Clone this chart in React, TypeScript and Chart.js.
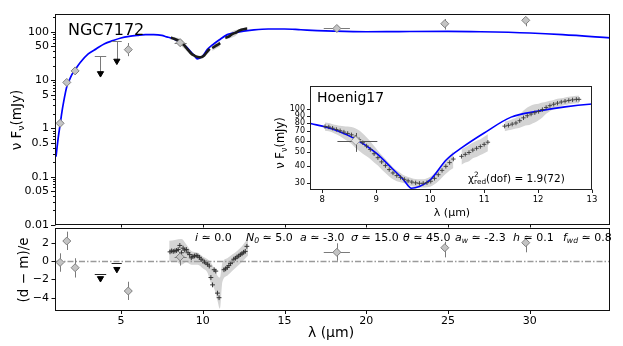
import React, { useEffect, useRef } from 'react';
import { Chart, registerables } from 'chart.js';
Chart.register(...registerables);

const FAM = '"DejaVu Sans", "Liberation Sans", sans-serif';
Chart.defaults.font.family = FAM;
const CW = 623, CH = 346;
const X_MIN = 1.03, X_MAX = 34.9;
const BAND = '#d4d4d4';

// ---- model SED (blue) ----
const modelX = [1.03, 1.1, 1.15, 1.2, 1.28, 1.4, 1.5, 1.6, 1.7, 1.8, 2.0, 2.2, 2.5, 3.0, 3.5, 4.0, 4.5, 5.0, 5.5, 6.0, 6.5, 7.0, 7.5, 7.8, 8.0, 8.3, 8.6, 9.0, 9.3, 9.5, 9.65, 9.8, 10.0, 10.3, 10.6, 11.0, 11.5, 12.0, 12.5, 13.0, 14, 15, 16, 17, 18, 20, 22, 25, 27, 30, 32, 35];
const modelY = [0.26, 0.42, 0.58, 0.78, 1.2, 2.3, 3.6, 5.4, 7.6, 9.2, 13, 16.5, 23, 35, 45, 57, 66, 75, 81, 85, 88, 88, 85, 79, 76, 70, 62, 49, 38, 32, 27.7, 28.5, 31.7, 44, 54, 68, 88, 97, 104, 109, 115, 115, 111, 107, 104, 101, 102, 103, 101, 95, 88, 75];

// ---- IR spectrum (Hoenig17) ----
const specX = [8.05, 8.12, 8.19, 8.26, 8.33, 8.40, 8.47, 8.54, 8.61, 8.68, 8.75, 8.82, 8.89, 8.96, 9.03, 9.10, 9.17, 9.24, 9.31, 9.38, 9.45, 9.52, 9.59, 9.66, 9.73, 9.80, 9.87, 9.94, 10.01, 10.08, 10.15, 10.22, 10.29, 10.36, 10.43,
  10.58, 10.65, 10.72, 10.79, 10.86, 10.93, 11.00, 11.07,
  11.38, 11.45, 11.52, 11.59, 11.66, 11.73, 11.80, 11.87, 11.94, 12.01, 12.08, 12.15, 12.22, 12.29, 12.36, 12.43, 12.50, 12.57, 12.64, 12.71, 12.76];
const specY = [75.5, 75, 73.5, 72, 70.5, 69, 67.5, 66, 63.5, 61, 58, 55, 52, 48.5, 45.5, 42.5, 40, 37.5, 35.5, 34, 33, 32, 31.2, 30.6, 30.2, 30, 30, 30.3, 31, 32.5, 34.5, 37, 39.5, 42, 44.5,
  46.5, 48, 49.5, 51.5, 53, 54.5, 56.5, 58.5,
  76, 77, 78.5, 80, 83, 87, 90, 92.5, 94.5, 96.5, 99.5, 103, 106, 108.5, 110.5, 112.5, 114, 115.5, 116.5, 117.5, 117.5];
const specErr = [5, 5, 5, 5.5, 6, 7, 8, 9, 10, 10, 9.5, 8.5, 7.5, 6.5, 5.5, 5, 4.5, 4, 3.5, 3, 2.5, 2, 2, 2, 2, 2, 2, 2.2, 2.5, 3, 3.5, 4, 4.5, 5, 6,
  6, 6, 6.5, 6.5, 7, 7, 7.5, 8,
  6, 6, 6.5, 7, 9, 11, 13, 14, 14, 13, 12, 10, 9, 8, 8, 7, 7, 7, 7, 7, 7];

// ---- photometry ----
const photX = [1.28, 1.69, 2.2, 5.45, 8.62, 18.2, 24.8, 29.75];
const photY = [1.28, 9.0, 15.6, 43, 60, 118, 148, 174];
const photYlo = [1.12, 7.9, 13.6, 31.5, 50, 112, 112, 131];
const photYhi = [1.45, 10.2, 17.8, 59, 68, 125, 185, 203];
const photXlo = [1.28, 1.69, 2.2, 5.45, 8.28, 17.4, 24.8, 29.75];
const photXhi = [1.28, 1.69, 2.2, 5.45, 9.02, 19.0, 24.8, 29.75];
// upper limits
const ulX = [3.75, 4.75];
const ulXlo = [3.4, 4.43];
const ulXhi = [4.1, 5.05];
const ulY = [31.6, 64];
const ulTip = [13.8, 25];

// ---- residuals ----
const resPhotY = [-0.15, 2.18, -0.73, -3.27, 0.45, 0.95, 1.45, 2.0];
const resPhotLo = [-1.17, 1.2, -1.8, -4.25, -0.5, 0.03, 0.4, 0.95];
const resPhotHi = [0.84, 3.2, 0.3, -2.26, 1.0, 1.93, 2.1, 2.47];
const resUlY = [-1.42, -0.18];
const resUlTip = [-1.9, -0.9];
const resX = [8.0, 8.1, 8.2, 8.3, 8.4, 8.5, 8.6, 8.7, 8.8, 8.9, 9.0, 9.1, 9.2, 9.3, 9.4, 9.5, 9.6, 9.7, 9.8, 9.9, 10.0, 10.1, 10.2, 10.3, 10.4, 10.5, 10.6, 10.7, 10.8, 10.9, 11.0, 11.3, 11.4, 11.5, 11.6, 11.7, 11.8, 11.9, 12.0, 12.1, 12.2, 12.3, 12.4, 12.5, 12.6, 12.7];
const resY = [1.0, 1.1, 1.05, 1.1, 1.15, 1.25, 1.7, 0.9, 1.4, 1.2, 1.25, 0.9, 0.7, 0.35, 0.5, 0.55, 0.6, 0.55, 0.4, 0.2, 0.0, -0.1, -0.2, -0.35, -0.55, -1.8, -2.6, -0.95, -1.1, -3.5, -4.0, -0.95, -0.85, -0.7, -0.5, -0.25, -0.1, 0.2, 0.3, 0.45, 0.55, 0.7, 0.8, 0.95, 1.05, 1.6];
const resBandX = [7.95, 8.3, 8.7, 9.0, 9.3, 9.7, 10.0, 10.3, 10.5, 10.7, 10.9, 11.05, 11.2, 11.5, 11.8, 12.1, 12.4, 12.77];
const resBandHi = [2.2, 2.3, 2.4, 1.8, 1.1, 0.9, 0.5, 0.2, -0.2, -0.8, -1.6, -1.8, -0.2, 0.3, 0.7, 1.1, 1.6, 2.5];
const resBandLo = [-0.1, 0.0, -0.4, -0.1, -0.4, -0.4, -0.8, -1.3, -2.4, -3.0, -4.3, -5.2, -2.3, -1.6, -1.1, -0.6, -0.1, 0.6];

// ---- ticks ----
const xTickVals = [5, 10, 15, 20, 25, 30];
const mainYLabelVals = [0.01, 0.05, 0.1, 0.5, 1, 5, 10, 50, 100];
const mainYLabels = ['0.01', '0.05', '0.1', '0.5', '1', '5', '10', '50', '100'];
const resYTickVals = [-4, -2, 0, 2];
const insetXTickVals = [8, 9, 10, 11, 12, 13];
const insetYTickVals = [30, 40, 50, 60, 70, 80, 90, 100];

// ---- parameter annotations ----
const params = [
  { sym: 'i', sub: '', val: '0.0', x: 195 },
  { sym: 'N', sub: '0', val: '5.0', x: 246 },
  { sym: 'a', sub: '', val: '-3.0', x: 300 },
  { sym: 'σ', sub: '', val: '15.0', x: 351 },
  { sym: 'θ', sub: '', val: '45.0', x: 403 },
  { sym: 'a', sub: 'w', val: '-2.3', x: 455 },
  { sym: 'h', sub: '', val: '0.1', x: 513 },
  { sym: 'f', sub: 'wd', val: '0.8', x: 563 },
];

type Seg = { t?: string; it?: boolean; sub?: boolean; sup?: boolean; supsub?: [string, string] };
type TextItem = { segs: Seg[]; x: number; y: number; size: number; align?: 'left' | 'center' | 'right'; rot?: number };
type EB = { x: number; y: number; xlo?: number; xhi?: number; ylo?: number; yhi?: number; color: string };
type Tk = { v: number; len: number };

function fontStr(size: number, it?: boolean) {
  return `${it ? 'italic ' : ''}${size}px ${FAM}`;
}
function segW(ctx: CanvasRenderingContext2D, s: Seg, size: number) {
  if (s.supsub) {
    ctx.font = fontStr(size * 0.7, s.it);
    return Math.max(ctx.measureText(s.supsub[0]).width, ctx.measureText(s.supsub[1]).width);
  }
  ctx.font = fontStr(s.sub || s.sup ? size * 0.7 : size, s.it);
  return ctx.measureText(s.t || '').width;
}
function drawRich(ctx: CanvasRenderingContext2D, it: TextItem) {
  const { segs, x, y, size, align = 'left', rot = 0 } = it;
  ctx.save();
  ctx.translate(x, y);
  if (rot) ctx.rotate(rot);
  ctx.fillStyle = '#000';
  ctx.textBaseline = 'alphabetic';
  ctx.textAlign = 'left';
  const total = segs.reduce((a, s) => a + segW(ctx, s, size), 0);
  let cx = align === 'left' ? 0 : align === 'center' ? -total / 2 : -total;
  for (const s of segs) {
    const w = segW(ctx, s, size);
    if (s.supsub) {
      ctx.font = fontStr(size * 0.7, s.it);
      ctx.fillText(s.supsub[0], cx, -size * 0.42);
      ctx.fillText(s.supsub[1], cx, size * 0.28);
    } else {
      ctx.font = fontStr(s.sub || s.sup ? size * 0.7 : size, s.it);
      ctx.fillText(s.t || '', cx, s.sub ? size * 0.24 : s.sup ? -size * 0.42 : 0);
    }
    cx += w;
  }
  ctx.restore();
}

interface DecorCfg {
  xTicks?: Tk[];
  yTicks?: Tk[];
  errbars?: EB[];
  zeroLine?: boolean;
  texts?: TextItem[];
  fillArea?: string;
  boxColor: string;
}
function makeDecor(cfg: DecorCfg) {
  return {
    id: 'decor',
    beforeDatasetsDraw(chart: any) {
      if (!cfg.fillArea) return;
      const a = chart.chartArea;
      const ctx = chart.ctx;
      ctx.save();
      ctx.fillStyle = cfg.fillArea;
      ctx.fillRect(a.left, a.top, a.right - a.left, a.bottom - a.top);
      ctx.restore();
    },
    beforeDatasetDraw(chart: any, args: any) {
      const ds = chart.data.datasets[args.index];
      if (ds.label !== 'phot') return;
      const ctx: CanvasRenderingContext2D = chart.ctx;
      const xs = chart.scales.x, ys = chart.scales.y;
      const a = chart.chartArea;
      ctx.save();
      if (cfg.zeroLine) {
        const py = Math.round(ys.getPixelForValue(0)) + 0.5;
        ctx.strokeStyle = '#9a9a9a';
        ctx.lineWidth = 1.3;
        ctx.setLineDash([6, 2, 1.5, 2]);
        ctx.beginPath();
        ctx.moveTo(a.left, py);
        ctx.lineTo(a.right, py);
        ctx.stroke();
        ctx.setLineDash([]);
      }
      for (const e of cfg.errbars || []) {
        ctx.strokeStyle = e.color;
        ctx.lineWidth = 1;
        const px = xs.getPixelForValue(e.x), py = ys.getPixelForValue(e.y);
        if (e.ylo !== undefined && e.yhi !== undefined) {
          ctx.beginPath();
          ctx.moveTo(Math.round(px) + 0.5, ys.getPixelForValue(e.ylo));
          ctx.lineTo(Math.round(px) + 0.5, ys.getPixelForValue(e.yhi));
          ctx.stroke();
        }
        if (e.xlo !== undefined && e.xhi !== undefined && e.xhi > e.xlo) {
          ctx.beginPath();
          ctx.moveTo(xs.getPixelForValue(e.xlo), Math.round(py) + 0.5);
          ctx.lineTo(xs.getPixelForValue(e.xhi), Math.round(py) + 0.5);
          ctx.stroke();
        }
      }
      ctx.restore();
    },
    afterDraw(chart: any) {
      const ctx: CanvasRenderingContext2D = chart.ctx;
      const a = chart.chartArea;
      const xs = chart.scales.x, ys = chart.scales.y;
      ctx.save();
      ctx.strokeStyle = cfg.boxColor;
      ctx.lineWidth = 1;
      const L = Math.round(a.left) - 0.5, R = Math.round(a.right) - 0.5;
      const T = Math.round(a.top) + 0.5, B = Math.round(a.bottom) - 0.5;
      ctx.strokeRect(L, T, R - L, B - T);
      ctx.beginPath();
      for (const t of cfg.xTicks || []) {
        const px = Math.round(xs.getPixelForValue(t.v)) + 0.5;
        ctx.moveTo(px, B);
        ctx.lineTo(px, B + t.len);
      }
      for (const t of cfg.yTicks || []) {
        const py = Math.round(ys.getPixelForValue(t.v)) + 0.5;
        ctx.moveTo(L, py);
        ctx.lineTo(L - t.len, py);
      }
      ctx.stroke();
      ctx.restore();
      for (const t of cfg.texts || []) drawRich(ctx, t);
    },
  };
}

function segIdx(xs: number[], gap = 0.1): number[][] {
  const out: number[][] = [];
  let cur: number[] = [];
  xs.forEach((x, i) => {
    if (i > 0 && x - xs[i - 1] > gap) {
      out.push(cur);
      cur = [];
    }
    cur.push(i);
  });
  if (cur.length) out.push(cur);
  return out;
}

function bandSets(ds: any[], xs: number[], lo: number[], hi: number[], idxs: number[], order: number) {
  const loIdx = ds.length;
  ds.push({
    data: idxs.map((i) => ({ x: xs[i], y: lo[i] })),
    borderWidth: 0, borderColor: 'transparent', pointRadius: 0, fill: false, order,
    cubicInterpolationMode: 'monotone',
  });
  ds.push({
    data: idxs.map((i) => ({ x: xs[i], y: hi[i] })),
    borderWidth: 0, borderColor: 'transparent', pointRadius: 0, fill: loIdx, backgroundColor: BAND, order,
    cubicInterpolationMode: 'monotone',
  });
}

const specLo = specY.map((v, i) => v - specErr[i]);
const specHi = specY.map((v, i) => v + specErr[i]);

function modelSet(width: number) {
  return {
    data: modelX.map((x, i) => ({ x, y: modelY[i] })),
    borderColor: '#0000ff', borderWidth: width, pointRadius: 0, fill: false, order: 5,
    cubicInterpolationMode: 'monotone',
  };
}

function baseOpts(padding: any, scales: any) {
  return {
    responsive: false,
    animation: false,
    devicePixelRatio: 1,
    events: [],
    layout: { padding },
    plugins: { legend: { display: false }, tooltip: { enabled: false } },
    scales,
  };
}

const tickFont = (size: number) => ({ family: FAM, size });

function topConfig(): any {
  const ds: any[] = [];
  segIdx(specX).forEach((seg) => bandSets(ds, specX, specLo, specHi, seg, 20));
  ds.push(modelSet(1.7));
  segIdx(specX).forEach((seg) =>
    ds.push({
      data: seg.map((i) => ({ x: specX[i], y: specY[i] })),
      borderColor: '#1a1a1a', borderWidth: 2.6, pointRadius: 0, fill: false, order: 3,
    })
  );
  ds.push({
    label: 'phot',
    data: photX.map((x, i) => ({ x, y: photY[i] })),
    showLine: false, pointStyle: 'rectRot', pointRadius: 4,
    pointBackgroundColor: '#c4c4c4', pointBorderColor: '#808080', pointBorderWidth: 1, order: 1,
  });
  ds.push({
    data: ulX.map((x, i) => ({ x, y: ulTip[i] })),
    showLine: false, pointStyle: 'triangle', pointRotation: 180, pointRadius: 3.6,
    pointBackgroundColor: '#000', pointBorderColor: '#000', pointBorderWidth: 1, order: 0,
  });

  const errbars: EB[] = photX.map((x, i) => ({
    x, y: photY[i], xlo: photXlo[i], xhi: photXhi[i], ylo: photYlo[i], yhi: photYhi[i], color: '#7a7a7a',
  }));
  ulX.forEach((x, i) => errbars.push({ x, y: ulY[i], xlo: ulXlo[i], xhi: ulXhi[i], ylo: ulTip[i], yhi: ulY[i], color: '#7a7a7a' }));

  const yTicks: Tk[] = [];
  [0.01, 0.1, 1, 10, 100].forEach((d) => {
    for (let m = 1; m <= 9; m++) {
      const v = +(m * d).toPrecision(3);
      if (v > 240) break;
      yTicks.push({ v, len: mainYLabelVals.some((u) => Math.abs(u - v) < 1e-9) ? 4.5 : 2.5 });
    }
  });

  const decor = makeDecor({
    boxColor: '#111',
    xTicks: xTickVals.map((v) => ({ v, len: 3 })),
    yTicks,
    errbars,
    texts: [
      { segs: [{ t: 'NGC7172' }], x: 68, y: 35, size: 16 },
      { segs: [{ t: 'ν F' }, { t: 'ν', sub: true }, { t: '(mJy)' }], x: 21, y: 120, size: 13.5, align: 'center', rot: -Math.PI / 2 },
    ],
  });

  return {
    type: 'line',
    data: { datasets: ds },
    options: baseOpts({ left: 0, right: 13, top: 10, bottom: 121 }, {
      x: { type: 'linear', min: X_MIN, max: X_MAX, display: false },
      y: {
        type: 'logarithmic', min: 0.01, max: 240,
        afterFit: (s: any) => { s.width = 56; },
        afterBuildTicks: (s: any) => { s.ticks = mainYLabelVals.map((v) => ({ value: v })); },
        grid: { display: false, drawTicks: false },
        border: { display: false },
        ticks: {
          autoSkip: false, padding: 7, color: '#000', font: tickFont(11),
          callback: (v: number) => {
            const k = mainYLabelVals.findIndex((u) => Math.abs(u - v) / u < 1e-6);
            return k >= 0 ? mainYLabels[k] : '';
          },
        },
      },
    }),
    plugins: [decor],
  };
}

function bottomConfig(): any {
  const ds: any[] = [];
  bandSets(ds, resBandX, resBandLo, resBandHi, resBandX.map((_, i) => i), 20);
  ds.push({
    data: resX.map((x, i) => ({ x, y: resY[i] })),
    showLine: false, pointStyle: 'cross', pointRadius: 2.4,
    pointBorderColor: '#333', pointBackgroundColor: '#333', pointBorderWidth: 1, order: 3,
  });
  ds.push({
    label: 'phot',
    data: photX.map((x, i) => ({ x, y: resPhotY[i] })),
    showLine: false, pointStyle: 'rectRot', pointRadius: 4,
    pointBackgroundColor: '#c4c4c4', pointBorderColor: '#808080', pointBorderWidth: 1, order: 1,
  });
  ds.push({
    data: ulX.map((x, i) => ({ x, y: resUlTip[i] })),
    showLine: false, pointStyle: 'triangle', pointRotation: 180, pointRadius: 3.6,
    pointBackgroundColor: '#000', pointBorderColor: '#000', pointBorderWidth: 1, order: 0,
  });
  const errbars: EB[] = photX.map((x, i) => ({
    x, y: resPhotY[i], xlo: photXlo[i], xhi: photXhi[i], ylo: resPhotLo[i], yhi: resPhotHi[i], color: '#7a7a7a',
  }));
  ulX.forEach((x, i) => errbars.push({ x, y: resUlY[i], xlo: ulXlo[i], xhi: ulXhi[i], color: '#222' }));

  const texts: TextItem[] = [
    { segs: [{ t: '(d − m)/e' }], x: 28, y: 270, size: 13.5, align: 'center', rot: -Math.PI / 2 },
    { segs: [{ t: 'λ (μm)' }], x: 331, y: 336.5, size: 14, align: 'center' },
  ];
  params.forEach((p) => {
    const segs: Seg[] = [{ t: p.sym, it: true }];
    if (p.sub) segs.push({ t: p.sub, it: true, sub: true });
    segs.push({ t: ' ≃ ' + p.val });
    texts.push({ segs, x: p.x, y: 240.5, size: 11 });
  });

  const decor = makeDecor({
    boxColor: '#111',
    zeroLine: true,
    xTicks: xTickVals.map((v) => ({ v, len: 3.5 })),
    yTicks: resYTickVals.map((v) => ({ v, len: 4 })),
    errbars,
    texts,
  });
  return {
    type: 'line',
    data: { datasets: ds },
    options: baseOpts({ left: 0, right: 13, top: 228, bottom: 0 }, {
      x: {
        type: 'linear', min: X_MIN, max: X_MAX,
        afterFit: (s: any) => { s.height = 35; },
        afterBuildTicks: (s: any) => { s.ticks = xTickVals.map((v) => ({ value: v })); },
        grid: { display: false, drawTicks: false },
        border: { display: false },
        ticks: { autoSkip: false, maxRotation: 0, minRotation: 0, padding: 4, color: '#000', font: tickFont(11), callback: (v: number) => String(v) },
      },
      y: {
        type: 'linear', min: -5.45, max: 3.6,
        afterFit: (s: any) => { s.width = 56; },
        afterBuildTicks: (s: any) => { s.ticks = resYTickVals.map((v) => ({ value: v })); },
        grid: { display: false, drawTicks: false },
        border: { display: false },
        ticks: { autoSkip: false, padding: 7, color: '#000', font: tickFont(11), callback: (v: number) => (v < 0 ? '−' + Math.abs(v) : String(v)) },
      },
    }),
    plugins: [decor],
  };
}

function insetConfig(): any {
  const ds: any[] = [];
  segIdx(specX).forEach((seg) => bandSets(ds, specX, specLo, specHi, seg, 20));
  ds.push(modelSet(1.6));
  ds.push({
    data: specX.map((x, i) => ({ x, y: specY[i] })),
    showLine: false, pointStyle: 'cross', pointRadius: 2.2,
    pointBorderColor: '#3a3a3a', pointBackgroundColor: '#3a3a3a', pointBorderWidth: 0.9, order: 3,
  });
  const k = 4; // the N-band photometric point
  ds.push({
    label: 'phot',
    data: [{ x: photX[k], y: photY[k] }],
    showLine: false, pointStyle: 'rectRot', pointRadius: 4.5,
    pointBackgroundColor: '#e2e2e2', pointBorderColor: '#9a9a9a', pointBorderWidth: 1, order: 1,
  });
  const errbars: EB[] = [{ x: photX[k], y: photY[k], xlo: photXlo[k], xhi: photXhi[k], ylo: photYlo[k], yhi: photYhi[k], color: '#555' }];
  const decor = makeDecor({
    boxColor: '#222',
    fillArea: '#fff',
    xTicks: insetXTickVals.map((v) => ({ v, len: 3.5 })),
    yTicks: insetYTickVals.map((v) => ({ v, len: 3.5 })),
    errbars,
    texts: [
      { segs: [{ t: 'Hoenig17' }], x: 317, y: 102, size: 14 },
      { segs: [{ t: 'χ' }, { supsub: ['2', 'red'] }, { t: '(dof) = 1.9(72)' }], x: 468, y: 181.5, size: 10.5 },
      { segs: [{ t: 'ν F' }, { t: 'ν', sub: true }, { t: '(mJy)' }], x: 284, y: 143, size: 11.5, align: 'center', rot: -Math.PI / 2 },
      { segs: [{ t: 'λ (μm)' }], x: 452, y: 216, size: 11, align: 'center' },
    ],
  });
  return {
    type: 'line',
    data: { datasets: ds },
    options: baseOpts({ left: 270, right: 31, top: 86, bottom: 136 }, {
      x: {
        type: 'linear', min: 7.79, max: 13,
        afterFit: (s: any) => { s.height = 20; },
        afterBuildTicks: (s: any) => { s.ticks = insetXTickVals.map((v) => ({ value: v })); },
        grid: { display: false, drawTicks: false },
        border: { display: false },
        ticks: { autoSkip: false, maxRotation: 0, minRotation: 0, padding: 5, color: '#000', font: tickFont(8.5), callback: (v: number) => String(v) },
      },
      y: {
        type: 'logarithmic', min: 26.9, max: 146,
        afterFit: (s: any) => { s.width = 41; },
        afterBuildTicks: (s: any) => { s.ticks = insetYTickVals.map((v) => ({ value: v })); },
        grid: { display: false, drawTicks: false },
        border: { display: false },
        ticks: { autoSkip: false, padding: 6, color: '#000', font: tickFont(8), callback: (v: number) => String(Math.round(v)) },
      },
    }),
    plugins: [decor],
  };
}

export default function App() {
  const r1 = useRef<HTMLCanvasElement>(null);
  const r2 = useRef<HTMLCanvasElement>(null);
  const r3 = useRef<HTMLCanvasElement>(null);
  useEffect(() => {
    const charts = [
      new Chart(r1.current as HTMLCanvasElement, topConfig()),
      new Chart(r2.current as HTMLCanvasElement, bottomConfig()),
      new Chart(r3.current as HTMLCanvasElement, insetConfig()),
    ];
    return () => charts.forEach((c) => c.destroy());
  }, []);
  const cs: React.CSSProperties = { position: 'absolute', left: 0, top: 0, width: CW, height: CH };
  return (
    <div style={{ position: 'fixed', left: 0, top: 0, width: CW, height: CH, background: '#fff' }}>
      <canvas ref={r1} width={CW} height={CH} style={cs} />
      <canvas ref={r2} width={CW} height={CH} style={cs} />
      <canvas ref={r3} width={CW} height={CH} style={cs} />
    </div>
  );
}
